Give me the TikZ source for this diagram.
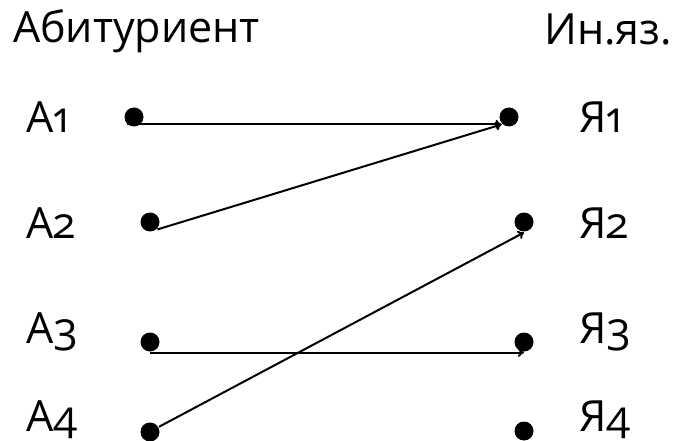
\documentclass[tikz,border=0pt]{standalone}
\usepackage{fontspec}
\setmainfont{Open Sans}[Numbers=OldStyle]
\usetikzlibrary{arrows.meta}

\begin{document}
\begin{tikzpicture}[x=1pt, y=-1pt, >={To[length=6pt, width=9pt]}, line width=2pt,
        dot/.style={circle, inner sep=0pt, minimum size=19pt, fill},
        head/.style={anchor=base west, inner sep=0pt, font=\fontsize{43}{48}\selectfont},
        lbl/.style={anchor=base west, inner sep=0pt, font=\fontsize{43}{48}\selectfont}]
        \useasboundingbox (0,0) rectangle (678,441);

        \node[head] (abit) at (12, 43) {Абитуриент};
        \node[head, anchor=base east] (inyaz) at (673, 45) {Ин.яз.};

        \node[lbl] (la1) at (25, 133) {А1};
        \node[lbl] (la2) at (25, 238) {А2};
        \node[lbl] (la3) at (25, 343) {А3};
        \node[lbl] (la4) at (25, 431) {А4};

        \node[lbl] (ly1) at (578, 133) {Я1};
        \node[lbl] (ly2) at (578, 238) {Я2};
        \node[lbl] (ly3) at (578, 343) {Я3};
        \node[lbl] (ly4) at (578, 431) {Я4};

        \node[dot] (a1) at (134, 117) {};
        \node[dot] (a2) at (150, 222) {};
        \node[dot] (a3) at (150, 342) {};
        \node[dot] (a4) at (150, 432) {};

        \node[dot] (y1) at (509, 117) {};
        \node[dot] (y2) at (524, 222) {};
        \node[dot] (y3) at (524, 342) {};
        \node[dot] (y4) at (524, 431) {};

        \draw (a1.south west) edge[->] (y1.south west)
              (a2.-45) edge[->] (y1.south west)
              (a3.south) edge[->] (y3.south)
              (a4.30) edge[->] (y2.south);
    \end{tikzpicture}
\end{document}
